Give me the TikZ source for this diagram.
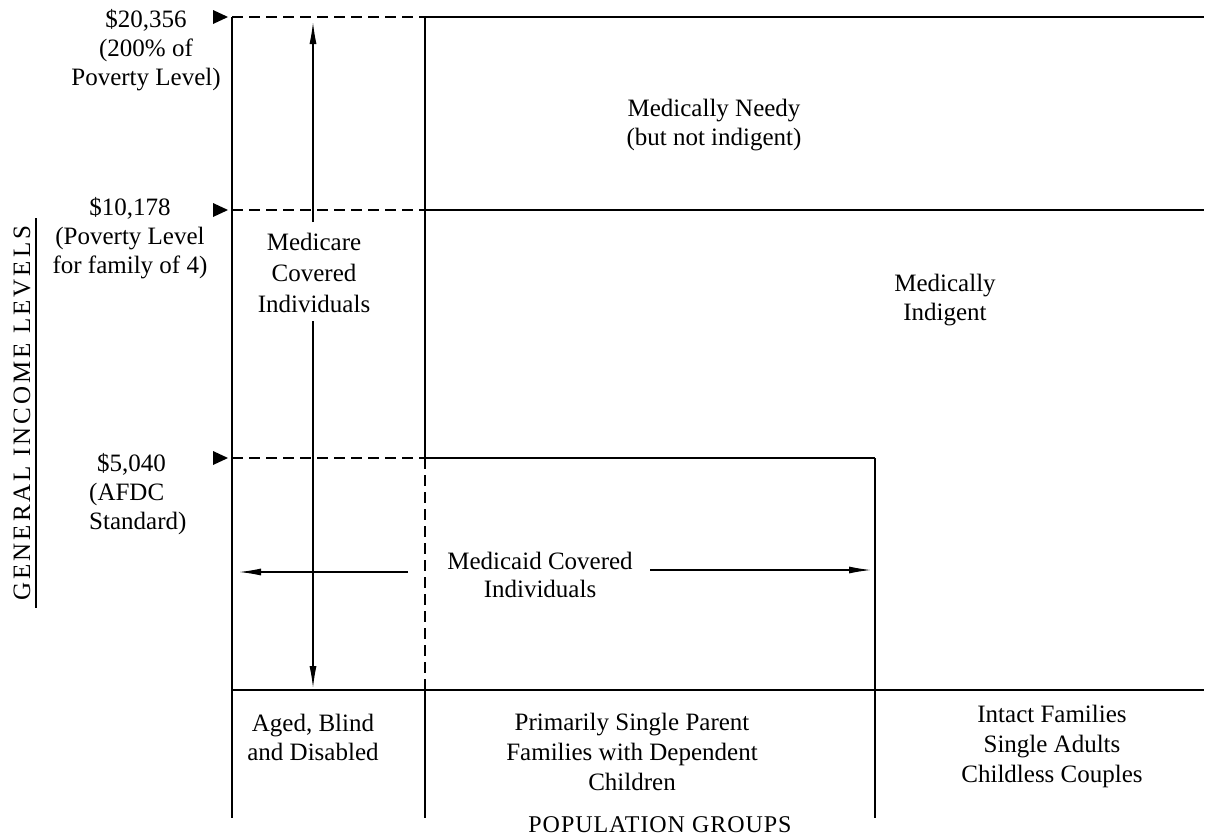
\documentclass[tikz,border=0pt]{standalone}
\usepackage{fontspec}
\setmainfont{Liberation Serif}
\usetikzlibrary{arrows.meta}
\begin{document}
\begin{tikzpicture}[x=1pt,y=-1pt,
  lbl/.style={font=\fontsize{25}{29}\selectfont, align=center, inner sep=0pt},
  gridline/.style={line width=1.4pt},
  dgridline/.style={line width=1.4pt, dash pattern=on 11pt off 6pt},
  arr/.style={line width=1.2pt, -{Latex[length=22pt,width=7pt]}},
  tri/.style={fill=black}]
\useasboundingbox (0,0) rectangle (1205,838);
% grid coordinates
\coordinate (L0) at (232,17);  \coordinate (M0) at (425,17);  \coordinate (R0) at (1204,17);
\coordinate (L1) at (232,210); \coordinate (M1) at (425,210); \coordinate (R1) at (1204,210);
\coordinate (L2) at (232,458); \coordinate (M2) at (425,458); \coordinate (N2) at (875,458);
\coordinate (Lb) at (232,690); \coordinate (Mb) at (425,690); \coordinate (Nb) at (875,690); \coordinate (Rb) at (1204,690);
\coordinate (Le) at (232,818); \coordinate (Me) at (425,818); \coordinate (Ne) at (875,818);
% horizontal lines
\draw[dgridline] (L0) -- (M0);
\draw[gridline] (M0) -- (R0);
\draw[dgridline] (L1) -- (M1);
\draw[gridline] (M1) -- (R1);
\draw[dgridline] (L2) -- (M2);
\draw[gridline] (M2) -- (N2);
\draw[gridline] (Lb) -- (Rb);
% vertical lines
\draw[gridline] (L0) -- (Le);
\draw[gridline] (M0) -- (M2);
\draw[dgridline] (M2) -- (Mb);
\draw[gridline] (Mb) -- (Me);
\draw[gridline] (N2) -- (Ne);
% level markers
\fill[tri] (213,10) -- (228,17) -- (213,24) -- cycle;
\fill[tri] (213,203) -- (228,210) -- (213,217) -- cycle;
\fill[tri] (213,451) -- (228,458) -- (213,465) -- cycle;
% level labels
\node[lbl] (lv1) at (146,50) {\$20,356\\(200\% of\\Poverty Level)};
\node[lbl] (lv2) at (130,238) {\$10,178\\(Poverty Level\\for family of 4)};
\node[lbl, align=left, anchor=west] (lv3) at (89,494) {\hspace{8pt}\$5,040\\(AFDC\\Standard)};
% axis label
\node[lbl, rotate=90, font=\fontsize{25}{29}\selectfont\addfontfeature{LetterSpace=12}] (yaxis) at (22,413) {GENERAL INCOME LEVELS};
\coordinate (ul0) at (36,218); \coordinate (ul1) at (36,608);
\draw[line width=1.2pt] (ul0) -- (ul1);
% region labels
\node[lbl] (needy) at (714,125) {Medically Needy\\(but not indigent)};
\node[lbl] (indig) at (945,300) {Medically\\Indigent};
\node[lbl, font=\fontsize{25}{31}\selectfont] (medicare) at (314,273) {Medicare\\Covered\\Individuals};
\node[lbl, font=\fontsize{25}{28}\selectfont] (medicaid) at (540,575) {Medicaid Covered\\Individuals};
% medicare arrows
\coordinate (mcT) at (313,222); \coordinate (mcTop) at (313,22);
\coordinate (mcB) at (313,321); \coordinate (mcBot) at (313,688);
\draw[arr] (mcT) -- (mcTop);
\draw[arr] (mcB) -- (mcBot);
% medicaid arrows
\coordinate (maL) at (408,572); \coordinate (maLe) at (239,572);
\coordinate (maR) at (650,570); \coordinate (maRe) at (871,570);
\draw[arr] (maL) -- (maLe);
\draw[arr] (maR) -- (maRe);
% population groups
\node[lbl] (g1) at (313,737) {Aged, Blind\\and Disabled};
\node[lbl, font=\fontsize{25}{30}\selectfont] (g2) at (632,752) {Primarily Single Parent\\Families with Dependent\\Children};
\node[lbl, font=\fontsize{25}{30}\selectfont] (g3) at (1052,746) {Intact Families\\Single Adults\\Childless Couples};
\node[lbl, font=\fontsize{24}{29}\selectfont\addfontfeature{LetterSpace=4}] (xaxis) at (660,825) {POPULATION GROUPS};
\end{tikzpicture}
\end{document}
